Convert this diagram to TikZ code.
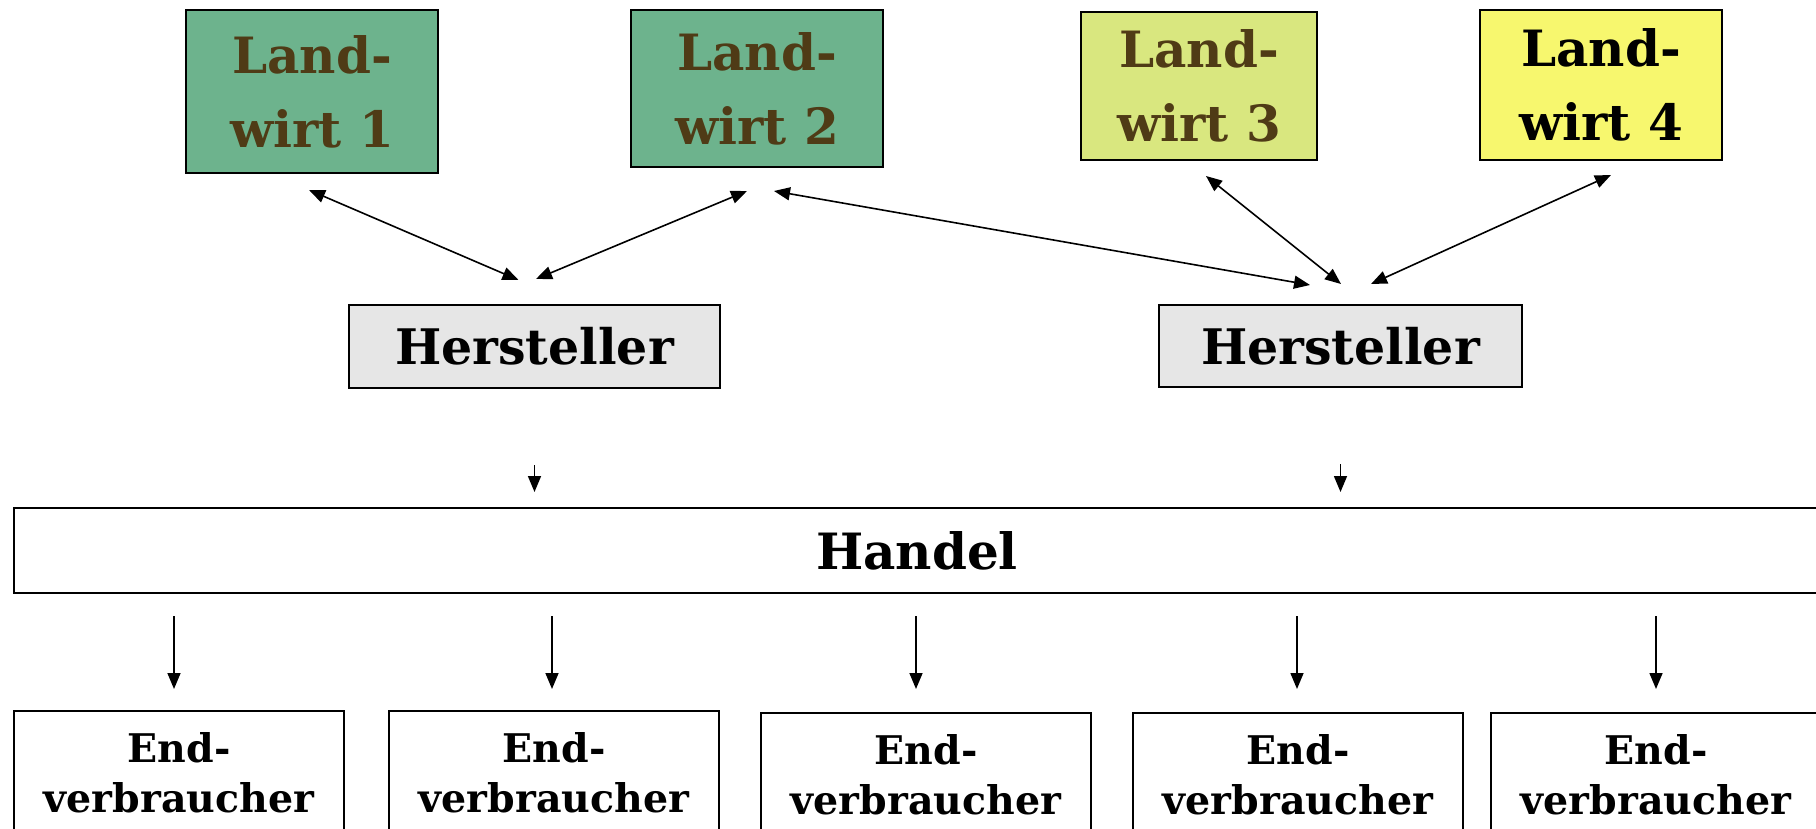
\documentclass[tikz,border=0pt]{standalone}
\usepackage{fontspec}
\setmainfont{DejaVu Serif}
\usetikzlibrary{arrows.meta,calc}
\definecolor{greenbox}{HTML}{6DB38D}
\definecolor{limebox}{HTML}{D9E77F}
\definecolor{yellowbox}{HTML}{F7F76E}
\definecolor{browntext}{HTML}{4F3B16}
\definecolor{greybox}{HTML}{E6E6E6}
\tikzset{
  box/.style={draw=black, line width=2pt, rectangle, inner sep=0pt, align=center},
  farmer/.style={box, font=\bfseries\fontsize{50}{74}\selectfont},
  maker/.style={box, fill=greybox, font=\bfseries\fontsize{49}{58}\selectfont},
  consumer/.style={box, font=\bfseries\fontsize{39.5}{50}\selectfont, minimum width=330pt, minimum height=124pt},
  conn/.style={line width=1.6pt, -{Triangle[length=16pt,width=13pt]}},
  dconn/.style={line width=1.6pt, {Triangle[length=16pt,width=13pt]}-{Triangle[length=16pt,width=13pt]}}
}
\begin{document}
\begin{tikzpicture}[x=1pt,y=-1pt]
\useasboundingbox (0,0) rectangle (1816,829);
% farmers
\node[farmer, fill=greenbox, text=browntext, minimum width=252pt, minimum height=163pt] (l1) at (312,91.5) {Land-\\wirt 1};
\node[farmer, fill=greenbox, text=browntext, minimum width=252pt, minimum height=157pt] (l2) at (757,88.5) {Land-\\wirt 2};
\node[farmer, fill=limebox, text=browntext, minimum width=236pt, minimum height=148pt] (l3) at (1199,86) {Land-\\wirt 3};
\node[farmer, fill=yellowbox, text=black, minimum width=242pt, minimum height=150pt] (l4) at (1601,85) {Land-\\wirt 4};
% makers
\node[maker, minimum width=371pt, minimum height=83pt] (h1) at (534.5,346.5) {Hersteller};
\node[maker, minimum width=363pt, minimum height=82pt] (h2) at (1340.5,346) {Hersteller};
% trade
\node[box, font=\bfseries\fontsize{50}{58}\selectfont, minimum width=1806pt, minimum height=85pt] (handel) at (917,550.5) {Handel};
% consumers
\node[consumer] (e1) at (179,773) {End-\\verbraucher};
\node[consumer] (e2) at (554,773) {End-\\verbraucher};
\node[consumer] (e3) at (926,775) {End-\\verbraucher};
\node[consumer] (e4) at (1298,775) {End-\\verbraucher};
\node[consumer] (e5) at (1656,775) {End-\\verbraucher};
% double arrows
\draw[dconn] ($(l1.south)+(-3,16)$) -- ($(h1.north)+(-16,-24)$);
\draw[dconn] ($(l2.south)+(-10,23)$) -- ($(h1.north)+(1.5,-25)$);
\draw[dconn] ($(l2.south)+(17,23)$) -- ($(h2.north)+(-30.5,-19)$);
\draw[dconn] ($(l3.south)+(7,15)$) -- ($(h2.north)+(0.5,-20)$);
\draw[dconn] ($(l4.south)+(10,14)$) -- ($(h2.north)+(30.5,-20)$);
% makers to trade
\draw[conn, shorten <=76pt, shorten >=15pt] (h1.south) -- (h1.south |- handel.north);
\draw[conn, shorten <=76pt, shorten >=15pt] (h2.south) -- (h2.south |- handel.north);
% trade to consumers
\draw[conn, shorten <=22pt, shorten >=21pt] ($(e1.north |- handel.south)+(-5,0)$) -- ($(e1.north)+(-5,0)$);
\draw[conn, shorten <=22pt, shorten >=21pt] ($(e2.north |- handel.south)+(-2,0)$) -- ($(e2.north)+(-2,0)$);
\draw[conn, shorten <=22pt, shorten >=23pt] ($(e3.north |- handel.south)+(-10,0)$) -- ($(e3.north)+(-10,0)$);
\draw[conn, shorten <=22pt, shorten >=23pt] ($(e4.north |- handel.south)+(-1,0)$) -- ($(e4.north)+(-1,0)$);
\draw[conn, shorten <=22pt, shorten >=23pt] (e5.north |- handel.south) -- (e5.north);
\end{tikzpicture}
\end{document}
